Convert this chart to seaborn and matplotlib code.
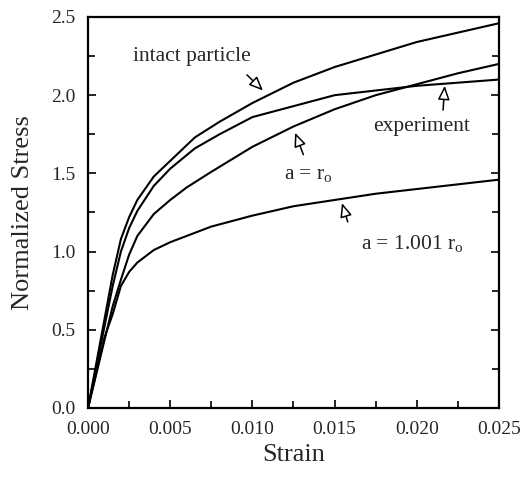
import matplotlib
matplotlib.use("Agg")
import matplotlib.pyplot as plt
import seaborn as sns
import pandas as pd
from matplotlib.ticker import MultipleLocator

# ---- data ----
strain_intact = [0, 0.0015, 0.002, 0.0025, 0.003, 0.004, 0.005, 0.0065, 0.008, 0.010, 0.0125, 0.015, 0.0175, 0.020, 0.0225, 0.025]
stress_intact = [0, 0.85, 1.08, 1.22, 1.33, 1.48, 1.58, 1.73, 1.83, 1.95, 2.08, 2.18, 2.26, 2.34, 2.40, 2.46]

strain_exp = [0, 0.0015, 0.002, 0.0025, 0.003, 0.004, 0.005, 0.0065, 0.008, 0.010, 0.0125, 0.015, 0.0175, 0.020, 0.0225, 0.025]
stress_exp = [0, 0.78, 1.00, 1.15, 1.26, 1.42, 1.53, 1.66, 1.75, 1.86, 1.93, 2.00, 2.03, 2.06, 2.08, 2.10]

strain_ro = [0, 0.0015, 0.002, 0.0025, 0.003, 0.004, 0.005, 0.006, 0.0075, 0.010, 0.0125, 0.015, 0.0175, 0.020, 0.0225, 0.025]
stress_ro = [0, 0.65, 0.82, 0.98, 1.10, 1.24, 1.33, 1.41, 1.51, 1.67, 1.80, 1.91, 2.00, 2.07, 2.14, 2.20]

strain_1001 = [0, 0.001, 0.0015, 0.002, 0.0025, 0.003, 0.004, 0.005, 0.0075, 0.010, 0.0125, 0.015, 0.0175, 0.020, 0.0225, 0.025]
stress_1001 = [0, 0.45, 0.60, 0.78, 0.87, 0.93, 1.01, 1.06, 1.16, 1.23, 1.29, 1.33, 1.37, 1.40, 1.43, 1.46]

series_names = ["intact particle", "experiment", "a = r_o", "a = 1.001 r_o"]

frames = []
for name, xs, ys in zip(series_names,
                        [strain_intact, strain_exp, strain_ro, strain_1001],
                        [stress_intact, stress_exp, stress_ro, stress_1001]):
    frames.append(pd.DataFrame({"Strain": xs, "Stress": ys, "series": name}))
df = pd.concat(frames, ignore_index=True)

sns.set_theme(style="white")
plt.rcParams["font.family"] = ["Liberation Serif", "DejaVu Serif"]
plt.rcParams["mathtext.fontset"] = "custom"
plt.rcParams["mathtext.rm"] = "Liberation Serif"
plt.rcParams["mathtext.it"] = "Liberation Serif"

fig = plt.figure(figsize=(5.28, 4.8), dpi=100)
ax = fig.add_axes([0.1667, 0.15, 0.7783, 0.8146])

sns.lineplot(data=df, x="Strain", y="Stress", units="series", estimator=None,
             color="black", linewidth=1.5, sort=False, ax=ax, legend=False)

ax.set_xlim(0, 0.025)
ax.set_ylim(0, 2.5)
ax.xaxis.set_major_locator(MultipleLocator(0.005))
ax.xaxis.set_minor_locator(MultipleLocator(0.0025))
ax.yaxis.set_major_locator(MultipleLocator(0.5))
ax.yaxis.set_minor_locator(MultipleLocator(0.25))
ax.set_xticklabels([f"{v:.3f}" for v in ax.get_xticks()])
ax.set_yticklabels([f"{v:.1f}" for v in ax.get_yticks()])
ax.tick_params(which="both", direction="in", top=False, right=True,
               bottom=True, left=True, color="black", width=1.2)
ax.tick_params(which="major", length=6, labelsize=14)
ax.tick_params(axis="x", which="major", pad=9)
ax.tick_params(axis="y", which="major", pad=9)
ax.tick_params(which="minor", length=5)
for s in ax.spines.values():
    s.set_color("black")
    s.set_linewidth(1.6)

ax.set_xlabel("Strain", fontsize=19, labelpad=5)
ax.set_ylabel("Normalized Stress", fontsize=19, labelpad=12)

arrow = dict(arrowstyle="-|>,head_length=0.7,head_width=0.3", fc="white",
             ec="black", lw=1.1, shrinkA=0, shrinkB=0)
fs = 15.5
ax.annotate("intact particle", xy=(0.01064, 2.03), xytext=(0.0063, 2.25),
            fontsize=fs, ha="center", va="center")
ax.annotate("", xy=(0.01064, 2.03), xytext=(0.00967, 2.13), arrowprops=arrow)

ax.annotate("experiment", xy=(0.0217, 2.05), xytext=(0.0203, 1.80),
            fontsize=fs, ha="center", va="center")
ax.annotate("", xy=(0.0217, 2.06), xytext=(0.0216, 1.905), arrowprops=arrow)

ax.annotate(r"a = r$_{\rm o}$", xy=(0.0126, 1.76), xytext=(0.0134, 1.49),
            fontsize=fs, ha="center", va="center")
ax.annotate("", xy=(0.0126, 1.76), xytext=(0.0131, 1.62), arrowprops=arrow)

ax.annotate(r"a = 1.001 r$_{\rm o}$", xy=(0.01545, 1.31), xytext=(0.0197, 1.05),
            fontsize=fs, ha="center", va="center")
ax.annotate("", xy=(0.01545, 1.31), xytext=(0.0158, 1.19), arrowprops=arrow)

fig.savefig("out.png", dpi=100)
